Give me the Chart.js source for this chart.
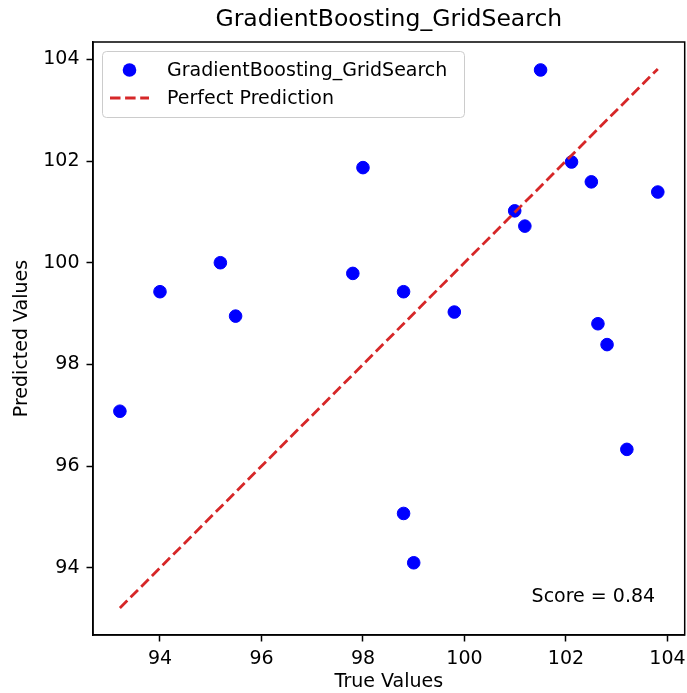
<!DOCTYPE html>
<html>
<head>
<meta charset="utf-8">
<title>GradientBoosting_GridSearch</title>
<script src="https://cdn.jsdelivr.net/npm/chart.js@4.4.1/dist/chart.umd.min.js"></script>
<style>
  html, body { margin: 0; padding: 0; background: #ffffff; overflow: hidden; }
  #wrap { width: 687px; height: 693px; overflow: hidden; }
</style>
</head>
<body>
<!-- canvas runs a few px past the right edge so the plot box can reach it -->
<div id="wrap"><canvas id="canvasScatter" width="692" height="693"></canvas></div>
<script>
// model results
var modelName = 'GradientBoosting_GridSearch';
var lineName = 'Perfect Prediction';

var trueVals = [93.21, 94.00, 95.19, 95.49, 97.80, 98.00, 98.80, 98.80, 99.00, 99.80,
                100.99, 101.19, 101.50, 102.11, 102.50, 102.63, 102.81, 103.20, 103.81];
var predVals = [97.08, 99.43, 100.00, 98.95, 99.79, 101.87, 99.43, 95.07, 94.10, 99.03,
                101.02, 100.72, 103.79, 101.98, 101.59, 98.80, 98.39, 96.33, 101.39];

var xTicks = [94, 96, 98, 100, 102, 104];
var yTicks = [94, 96, 98, 100, 102, 104];
var scoreValue = 0.84;

var FONT = 'DejaVu Sans';

// diagonal runs over the range of the true values
var lineLo = Math.min.apply(null, trueVals);
var lineHi = Math.max.apply(null, trueVals);

// axis limits with a 5% margin around everything plotted
var allVals = trueVals.concat(predVals, [lineLo, lineHi]);
var vMin = Math.min.apply(null, allVals);
var vMax = Math.max.apply(null, allVals);
var margin = (vMax - vMin) * 0.05;
var axMin = vMin - margin;
var axMax = vMax + margin;

var points = trueVals.map(function (v, i) {
    return { x: v, y: predVals[i] };
});

// frame, legend box and score text
var overlayPlugin = {
    id: 'overlay',
    afterDraw: function (chart) {
        var c = chart.ctx;
        var a = chart.chartArea;
        var sets = chart.data.datasets;

        c.save();

        // full box around the plot
        c.strokeStyle = '#000000';
        c.lineWidth = 1.5;
        c.strokeRect(a.left, a.top, a.right - a.left, a.bottom - a.top);

        // score in the lower right corner
        c.fillStyle = '#000000';
        c.font = '19px "' + FONT + '"';
        c.textAlign = 'right';
        c.textBaseline = 'alphabetic';
        c.fillText('Score = ' + scoreValue.toFixed(2),
            a.left + 0.95 * (a.right - a.left),
            a.bottom - 0.056 * (a.bottom - a.top));

        // legend
        var bx = a.left + 9, by = a.top + 9, bw = 362, bh = 66;
        c.beginPath();
        c.roundRect(bx + 0.5, by + 0.5, bw, bh, 4);
        c.fillStyle = 'rgba(255,255,255,0.8)';
        c.fill();
        c.strokeStyle = '#cccccc';
        c.lineWidth = 1;
        c.stroke();

        var hx0 = bx + 8, hx1 = bx + 47, tx = bx + 65;
        var row1 = by + 19, row2 = by + 47;

        var sc = sets[1];
        c.beginPath();
        c.arc((hx0 + hx1) / 2, row1, sc.pointRadius + 0.5, 0, Math.PI * 2);
        c.fillStyle = sc.backgroundColor;
        c.fill();

        var ln = sets[0];
        c.beginPath();
        c.setLineDash(ln.borderDash);
        c.moveTo(hx0, row2);
        c.lineTo(hx1, row2);
        c.strokeStyle = ln.borderColor;
        c.lineWidth = ln.borderWidth;
        c.stroke();
        c.setLineDash([]);

        c.fillStyle = '#000000';
        c.textAlign = 'left';
        c.fillText(sc.label, tx, row1 + 6);
        c.fillText(ln.label, tx, row2 + 6);

        c.restore();
    }
};

var ctx = document.getElementById('canvasScatter');

new Chart(ctx, {

    data: {
        datasets: [{
            type: 'line',
            label: lineName,
            data: [{ x: lineLo, y: lineLo }, { x: lineHi, y: lineHi }],
            borderColor: '#d62728',
            borderWidth: 2.8,
            borderDash: [10.5, 4.6],
            pointRadius: 0,
            fill: false,
            order: 0
        }, {
            type: 'scatter',
            label: modelName,
            data: points,
            backgroundColor: '#0000ff',
            borderColor: '#0000ff',
            borderWidth: 1,
            pointRadius: 6.3,
            order: 1
        }]
    },

    options: {
        responsive: false,
        maintainAspectRatio: false,
        animation: false,
        devicePixelRatio: 1,
        layout: {
            padding: { left: 0, right: 0, top: 0, bottom: 0 }
        },
        plugins: {
            legend: { display: false },
            tooltip: { enabled: false },
            title: {
                display: true,
                text: modelName,
                fullSize: false,
                color: '#000000',
                font: { family: FONT, size: 23.5, weight: 'normal' },
                padding: { top: 6, bottom: 7.8 }
            }
        },
        scales: {
            x: {
                type: 'linear',
                min: axMin,
                max: axMax,
                afterFit: function (s) {
                    s.height = 58;
                    s.paddingLeft = 0;
                    s.paddingRight = 0;
                },
                afterBuildTicks: function (s) {
                    s.ticks = xTicks.map(function (v) { return { value: v }; });
                },
                grid: {
                    drawOnChartArea: false,
                    drawTicks: true,
                    tickLength: 6.5,
                    tickWidth: 1.5,
                    tickColor: '#000000'
                },
                border: { display: true, color: '#000000', width: 1.5 },
                ticks: {
                    color: '#000000',
                    padding: 6,
                    maxRotation: 0,
                    font: { family: FONT, size: 19 }
                },
                title: {
                    display: true,
                    text: 'True Values',
                    color: '#000000',
                    font: { family: FONT, size: 19 },
                    padding: { top: -4, bottom: 0 }
                }
            },
            y: {
                type: 'linear',
                min: axMin,
                max: axMax,
                afterFit: function (s) {
                    s.width = 93;
                    s.paddingTop = 0;
                    s.paddingBottom = 0;
                },
                afterBuildTicks: function (s) {
                    s.ticks = yTicks.map(function (v) { return { value: v }; });
                },
                grid: {
                    drawOnChartArea: false,
                    drawTicks: true,
                    tickLength: 6.5,
                    tickWidth: 1.5,
                    tickColor: '#000000'
                },
                border: { display: true, color: '#000000', width: 1.5 },
                ticks: {
                    color: '#000000',
                    padding: 7,
                    font: { family: FONT, size: 19 }
                },
                title: {
                    display: true,
                    text: 'Predicted Values',
                    color: '#000000',
                    font: { family: FONT, size: 19 },
                    padding: { top: 11, bottom: 0 }
                }
            }
        }
    },

    plugins: [overlayPlugin]
});
</script>
</body>
</html>
